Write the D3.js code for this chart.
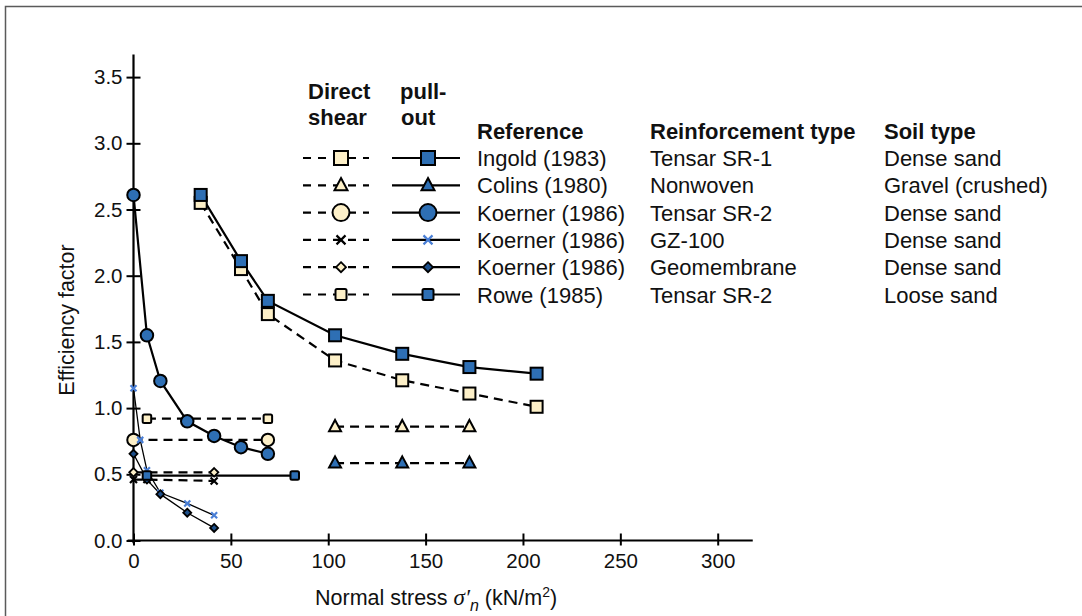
<!DOCTYPE html>
<html>
<head>
<meta charset="utf-8">
<script src="https://cdn.jsdelivr.net/npm/d3@7"></script>
<style>
  html, body { margin: 0; padding: 0; background: #fff; }
  svg { display: block; font-family: "Liberation Sans", Arial, sans-serif; }
</style>
</head>
<body>
<svg id="chart" width="1082" height="616"></svg>
<script>
// Normal stress values (kN/m²) at which tests were run
const stressIngold = [34.5, 55.2, 69, 103.5, 138, 172.5, 207];
const stressColins = [103.5, 138, 172.5];
const stressKoernerSR2 = [0, 6.9, 13.8, 27.6, 41.4, 55.2, 69];
const stressKoernerSR2Shear = [0, 69];
const stressGZ100Pull = [0, 3.45, 6.9, 13.8, 27.6, 41.4];
const stressGZ100Shear = [0, 6.9, 41.4];
const stressGeomPull = [0, 6.9, 13.8, 27.6, 41.4];
const stressGeomShear = [0, 41.4];
const stressRoweShear = [6.9, 69];
const stressRowePull = [6.9, 82.8];

// Efficiency factors
const ingoldShear = [2.55, 2.05, 1.71, 1.36, 1.21, 1.11, 1.01];
const ingoldPull = [2.61, 2.11, 1.81, 1.55, 1.41, 1.31, 1.26];
const colinsShear = [0.86, 0.86, 0.86];
const colinsPull = [0.585, 0.585, 0.585];
const koernerSR2Shear = [0.76, 0.76];
const koernerSR2Pull = [2.61, 1.55, 1.205, 0.9, 0.79, 0.705, 0.655];
const gz100Shear = [0.46, 0.46, 0.45];
const gz100Pull = [1.15, 0.76, 0.53, 0.36, 0.28, 0.19];
const geomShear = [0.515, 0.515];
const geomPull = [0.655, 0.46, 0.35, 0.21, 0.095];
const roweShear = [0.92, 0.92];
const rowePull = [0.49, 0.49];

// Axis ticks
const xTicks = [0, 50, 100, 150, 200, 250, 300];
const yTicks = [0, 0.5, 1.0, 1.5, 2.0, 2.5, 3.0, 3.5];

// Legend table
const legendRefs = ["Ingold (1983)", "Colins (1980)", "Koerner (1986)", "Koerner (1986)", "Koerner (1986)", "Rowe (1985)"];
const legendReinf = ["Tensar SR-1", "Nonwoven", "Tensar SR-2", "GZ-100", "Geomembrane", "Tensar SR-2"];
const legendSoil = ["Dense sand", "Gravel (crushed)", "Dense sand", "Dense sand", "Dense sand", "Loose sand"];
const legendMarkers = ["square", "triangle", "circle", "cross", "diamond", "smallSquare"];

const CREAM = "#fdf0c8";
const BLUE = "#2e6fb4";
const XBLUE = "#4a7fd6";
const TXT = "#111";

const svg = d3.select("#chart");

// outer frame
svg.append("rect")
  .attr("x", 5.5).attr("y", 6.5)
  .attr("width", 1100).attr("height", 700)
  .attr("fill", "none").attr("stroke", "#5a5a5a").attr("stroke-width", 1.5);

const x = d3.scaleLinear().domain([0, 300]).range([133.5, 717.7]);
const y = d3.scaleLinear().domain([0, 3.5]).range([540.5, 77.1]);

const g = svg.append("g");

// axes
const xAxis = g.append("g").attr("transform", `translate(0,${y(0)})`)
  .call(d3.axisBottom(x).tickValues(xTicks).tickFormat(d3.format("d")).tickSize(0).tickPadding(13));
xAxis.select(".domain").remove();
xAxis.selectAll(".tick line").attr("y1", -7).attr("y2", 5).attr("stroke", "#000").attr("stroke-width", 2);
xAxis.selectAll(".tick text").attr("font-size", 20.5).attr("fill", TXT).attr("font-family", "Liberation Sans, Arial, sans-serif");
g.append("line")
  .attr("x1", x(-3)).attr("x2", x(318)).attr("y1", y(0)).attr("y2", y(0))
  .attr("stroke", "#000").attr("stroke-width", 2.2);

const yAxis = g.append("g").attr("transform", `translate(${x(0)},0)`)
  .call(d3.axisLeft(y).tickValues(yTicks).tickFormat(d3.format(".1f")).tickSize(0).tickPadding(11));
yAxis.select(".domain").remove();
yAxis.selectAll(".tick line").attr("x1", -7).attr("x2", 7).attr("stroke", "#000").attr("stroke-width", 2);
yAxis.selectAll(".tick text").attr("font-size", 20.5).attr("fill", TXT).attr("font-family", "Liberation Sans, Arial, sans-serif");
g.append("line")
  .attr("x1", x(0)).attr("x2", x(0)).attr("y1", y(3.67)).attr("y2", y(-0.02))
  .attr("stroke", "#000").attr("stroke-width", 2.2);

// axis titles
const xt = svg.append("text").attr("x", 315).attr("y", 605)
  .attr("font-size", 21.5).attr("fill", TXT);
xt.append("tspan").text("Normal stress ");
xt.append("tspan").attr("font-style", "italic").attr("font-family", "Liberation Serif, serif").attr("font-size", 23).text("σ′");
xt.append("tspan").attr("font-style", "italic").attr("font-size", 16).attr("dy", 6).text("n");
xt.append("tspan").attr("dy", -6).text(" (kN/m");
xt.append("tspan").attr("font-size", 14).attr("dy", -8).text("2");
xt.append("tspan").attr("dy", 8).text(")");

svg.append("text")
  .attr("transform", `translate(74,320) rotate(-90)`)
  .attr("text-anchor", "middle").attr("font-size", 21.5).attr("fill", TXT)
  .text("Efficiency factor");

// marker drawing
function marker(sel, type, fill, size, stroke) {
  const s = size;
  if (type === "square" || type === "smallSquare") {
    sel.append("rect").attr("x", -s / 2).attr("y", -s / 2).attr("width", s).attr("height", s)
      .attr("rx", type === "smallSquare" ? 1.5 : 0)
      .attr("fill", fill).attr("stroke", "#000").attr("stroke-width", 2);
  } else if (type === "circle") {
    sel.append("circle").attr("r", s / 2).attr("fill", fill).attr("stroke", "#000").attr("stroke-width", 2);
  } else if (type === "triangle") {
    const h = s * 0.9;
    sel.append("path").attr("d", `M0,${-h * 0.62}L${s / 2},${h * 0.42}L${-s / 2},${h * 0.42}Z`)
      .attr("fill", fill).attr("stroke", "#000").attr("stroke-width", 2).attr("stroke-linejoin", "miter");
  } else if (type === "diamond") {
    sel.append("path").attr("d", `M0,${-s / 2}L${s / 2},0L0,${s / 2}L${-s / 2},0Z`)
      .attr("fill", fill).attr("stroke", "#000").attr("stroke-width", 1.8);
  } else if (type === "cross") {
    const r = s / 2;
    sel.append("path").attr("d", `M${-r},${-r}L${r},${r}M${-r},${r}L${r},${-r}`)
      .attr("stroke", stroke || "#000").attr("stroke-width", 2.2).attr("fill", "none");
  }
}

const line = d3.line().x(d => x(d[0])).y(d => y(d[1]));
const series = [
  { xs: stressIngold, ys: ingoldShear, type: "square", fill: CREAM, dash: true, size: 12 },
  { xs: stressIngold, ys: ingoldPull, type: "square", fill: BLUE, dash: false, size: 12 },
  { xs: stressColins, ys: colinsShear, type: "triangle", fill: CREAM, dash: true, size: 12 },
  { xs: stressColins, ys: colinsPull, type: "triangle", fill: BLUE, dash: true, size: 12 },
  { xs: stressKoernerSR2Shear, ys: koernerSR2Shear, type: "circle", fill: CREAM, dash: true, size: 12.5 },
  { xs: stressKoernerSR2, ys: koernerSR2Pull, type: "circle", fill: BLUE, dash: false, size: 12.5 },
  { xs: stressGZ100Shear, ys: gz100Shear, type: "cross", fill: "none", stroke: "#000", dash: true, size: 7 },
  { xs: stressGZ100Pull, ys: gz100Pull, type: "cross", fill: "none", stroke: XBLUE, dash: false, size: 6, thin: true },
  { xs: stressGeomShear, ys: geomShear, type: "diamond", fill: CREAM, dash: true, size: 8.5 },
  { xs: stressGeomPull, ys: geomPull, type: "diamond", fill: "#1d4f8a", dash: false, size: 8, thin: true },
  { xs: stressRoweShear, ys: roweShear, type: "smallSquare", fill: CREAM, dash: true, size: 8.5 },
  { xs: stressRowePull, ys: rowePull, type: "smallSquare", fill: BLUE, dash: false, size: 8.5 }
];

const plot = svg.append("g");
series.forEach(s => {
  const pts = s.xs.map((v, i) => [v, s.ys[i]]);
  plot.append("path").datum(pts).attr("d", line)
    .attr("fill", "none").attr("stroke", "#000")
    .attr("stroke-width", s.thin ? 1.3 : 2.2)
    .attr("stroke-dasharray", s.dash ? "9,6" : null);
});
series.forEach(s => {
  s.xs.forEach((v, i) => {
    const m = plot.append("g").attr("transform", `translate(${x(v)},${y(s.ys[i])})`);
    marker(m, s.type, s.fill, s.size, s.stroke);
  });
});

// legend
const LFS = 22;
const leg = svg.append("g");
[["Direct", 308, 99], ["shear", 308, 125], ["pull-", 400, 99], ["out", 401, 125]].forEach(d => {
  leg.append("text").attr("x", d[1]).attr("y", d[2]).attr("font-size", LFS)
    .attr("font-weight", "bold").attr("fill", TXT).text(d[0]);
});
[["Reference", 477], ["Reinforcement type", 650], ["Soil type", 884]].forEach(d => {
  leg.append("text").attr("x", d[1]).attr("y", 139).attr("font-size", LFS)
    .attr("font-weight", "bold").attr("fill", TXT).text(d[0]);
});
const legSize = { square: 14, triangle: 13, circle: 17, cross: 9, diamond: 10, smallSquare: 11 };
legendRefs.forEach((ref, i) => {
  const yy = 158 + i * 27.3;
  const type = legendMarkers[i];
  leg.append("line").attr("x1", 303).attr("x2", 369).attr("y1", yy).attr("y2", yy)
    .attr("stroke", "#000").attr("stroke-width", 2.2).attr("stroke-dasharray", "8,7");
  leg.append("line").attr("x1", 392).attr("x2", 460).attr("y1", yy).attr("y2", yy)
    .attr("stroke", "#000").attr("stroke-width", 2.2);
  marker(leg.append("g").attr("transform", `translate(341,${yy})`), type, CREAM, legSize[type], "#000");
  marker(leg.append("g").attr("transform", `translate(428,${yy})`), type,
    type === "diamond" ? "#1d4f8a" : BLUE, legSize[type], XBLUE);
  leg.append("text").attr("x", 477).attr("y", yy + 8).attr("font-size", LFS).attr("fill", TXT).text(ref);
  leg.append("text").attr("x", 650).attr("y", yy + 8).attr("font-size", LFS).attr("fill", TXT).text(legendReinf[i]);
  leg.append("text").attr("x", 884).attr("y", yy + 8).attr("font-size", LFS).attr("fill", TXT).text(legendSoil[i]);
});
</script>
</body>
</html>
